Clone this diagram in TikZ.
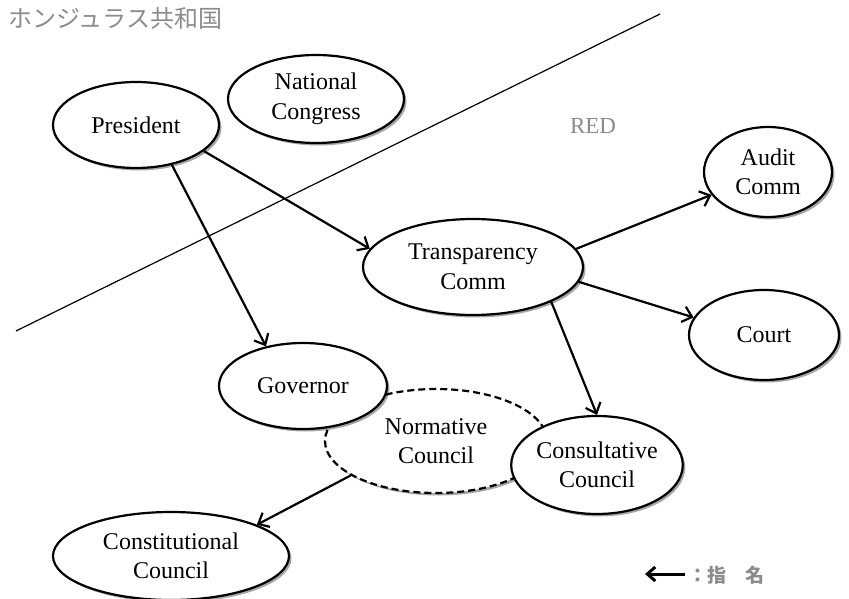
\documentclass[tikz,border=0pt]{standalone}
\usepackage{fontspec}
\setmainfont{Liberation Serif}
\newfontfamily\jpfont{Noto Sans CJK JP}
\usetikzlibrary{shapes.geometric,arrows.meta,shadows}
\begin{document}
\begin{tikzpicture}[x=1pt,y=-1pt,
  ell/.style={ellipse, draw, line width=2.2pt, fill=white, inner sep=0pt, align=center,
    font=\fontsize{24}{29.5}\selectfont,
    drop shadow={shadow xshift=2.5pt, shadow yshift=-2.5pt, opacity=0.35, fill=black}},
  dashell/.style={ell, dash pattern=on 7pt off 4pt},
  link/.style={line width=2.2pt, -{Straight Barb[length=9pt,width=16pt,line width=2.2pt]}},
  graytext/.style={text=black!45, inner sep=0pt}
]
\useasboundingbox[fill=white] (0,0) rectangle (849,599);

\node[graytext, anchor=west, font=\jpfont\fontsize{24}{28}\selectfont] (title) at (8,19) {ホンジュラス共和国};
\coordinate (la) at (16,331);
\coordinate (lb) at (660,14);
\draw[line width=1.2pt] (la) -- (lb);
\node[graytext, font=\fontsize{23}{27}\selectfont] (red) at (593,126) {RED};

\node[ell, minimum width=166pt, minimum height=86pt] (pres) at (136,125) {President};
\node[ell, minimum width=176pt, minimum height=88pt] (nc) at (316,99) {National\\Congress};
\node[ell, minimum width=128pt, minimum height=90pt] (audit) at (768,172) {Audit\\Comm};
\node[ell, minimum width=220pt, minimum height=96pt] (trans) at (473,267) {Transparency\\Comm};
\node[ell, minimum width=150pt, minimum height=90pt] (court) at (764,335) {Court};
\node[dashell, minimum width=222pt, minimum height=104pt] (norm) at (436,441) {Normative\\Council};
\node[ell, minimum width=168pt, minimum height=86pt] (gov) at (303,386) {Governor};
\node[ell, minimum width=168pt, minimum height=98pt] (cons) at (597,465) {Consultative\\Council};
\node[ell, minimum width=236pt, minimum height=88pt] (const) at (171,556) {Constitutional\\Council};

\draw[link] (pres.-21) -- (trans.170);
\draw[link] (pres.-48) -- (gov.133);
\draw[link] (trans.10) -- (audit.202);
\draw[link] (trans.-8) -- (court.166);
\draw[link] (trans.-24) -- (cons.90);
\draw[link] (norm.202) -- (const.20);

\coordinate (legt) at (685,574);
\coordinate (legh) at (645,574);
\draw[line width=3pt, -{Straight Barb[length=8pt,width=14pt,line width=3pt]}] (legt) -- (legh);
\node[graytext, anchor=west, font=\jpfont\bfseries\fontsize{19}{23}\selectfont] (legend) at (688,575) {：指　名};
\end{tikzpicture}
\end{document}
